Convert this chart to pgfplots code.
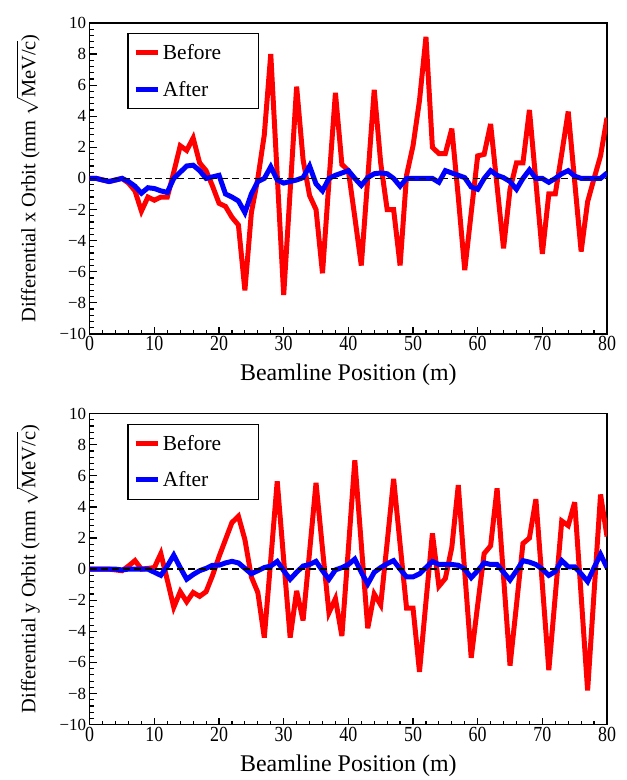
\documentclass[border=0pt]{standalone}
\usepackage{amsmath}
\usepackage{fontspec}
\setmainfont{Liberation Serif}
\usepackage{pgfplots}
\pgfplotsset{compat=1.18}
\usepackage{pgfplotstable}

\pgfplotstableread{
m xb xa
0 0 0
1 0 0
2 -0.1 -0.1
3 -0.2 -0.2
4 -0.1 -0.1
5 0 0
6 -0.3 -0.2
7 -0.8 -0.5
8 -2.1 -0.95
9 -1.2 -0.6
10 -1.4 -0.65
11 -1.2 -0.8
12 -1.2 -0.9
13 0.4 0
14 2.1 0.4
15 1.8 0.8
16 2.6 0.85
17 1.0 0.5
18 0.5 0
19 -0.5 0.1
20 -1.6 0.2
21 -1.8 -1.0
22 -2.5 -1.2
23 -3.0 -1.45
24 -7.2 -2.2
25 -2.2 -1.0
26 0 -0.2
27 2.8 0
28 8.0 0.75
29 0.2 -0.1
30 -7.5 -0.3
31 -0.8 -0.2
32 5.9 -0.1
33 1.2 0.05
34 -1.1 0.8
35 -2.0 -0.35
36 -6.1 -0.8
37 -0.2 0
38 5.5 0.2
39 0.9 0.35
40 0.5 0.5
41 -2.5 0
42 -5.6 -0.45
43 0 0.05
44 5.7 0.3
45 1.0 0.35
46 -2.0 0.3
47 -2.0 0
48 -5.6 -0.5
49 0.2 0
50 2.1 0
51 5.0 0
52 9.1 0
53 2.0 0
54 1.6 -0.25
55 1.6 0.5
56 3.2 0.35
57 -1.2 0.2
58 -5.9 0.05
59 -2.2 -0.55
60 1.45 -0.7
61 1.55 0
62 3.5 0.5
63 -0.5 0.2
64 -4.5 0.05
65 -0.7 -0.2
66 1.0 -0.7
67 1.0 0
68 4.4 0.55
69 -0.2 0
70 -4.85 0
71 -1.0 -0.25
72 -1.0 0
73 1.6 0.3
74 4.3 0.5
75 -0.2 0.15
76 -4.7 0
77 -1.5 0
78 0 0
79 1.45 0
80 3.9 0.35
}\xdata

\pgfplotstableread{
m yb ya
0 0 0
1 0 0
2 0 0
3 0 0
4 -0.05 0
5 -0.1 -0.05
6 0.2 0
7 0.55 0
8 0 0
9 0.05 0
10 0.1 -0.2
11 1.0 -0.4
12 -0.7 0.2
13 -2.45 0.9
14 -1.45 0.1
15 -2.1 -0.65
16 -1.5 -0.35
17 -1.75 -0.1
18 -1.45 0.05
19 -0.4 0.25
20 0.8 0.25
21 1.9 0.4
22 3.0 0.5
23 3.4 0.4
24 1.9 0.05
25 -0.5 -0.3
26 -1.5 -0.1
27 -4.4 0.1
28 0.6 0.2
29 5.65 0.5
30 0.6 -0.1
31 -4.4 -0.65
32 -1.4 -0.2
33 -3.3 0.2
34 1.1 0.3
35 5.55 0.5
36 1.3 -0.1
37 -2.8 -0.65
38 -1.9 -0.05
39 -4.3 0.1
40 1.3 0.3
41 7.0 0.65
42 1.6 -0.2
43 -3.8 -0.95
44 -1.6 -0.2
45 -2.3 0.1
46 1.7 0.35
47 5.8 0.55
48 1.6 0
49 -2.5 -0.5
50 -2.5 -0.5
51 -6.6 -0.3
52 -2.1 0.1
53 2.3 0.5
54 -1.1 0.3
55 -0.6 0.3
56 1.4 0.3
57 5.4 0.25
58 -0.2 0
59 -5.7 -0.55
60 -2.3 -0.1
61 1.0 0.4
62 1.5 0.3
63 5.2 0.3
64 -0.5 -0.2
65 -6.2 -0.7
66 -2.3 -0.1
67 1.65 0.55
68 2.0 0.45
69 4.5 0.3
70 -1.0 0
71 -6.5 -0.4
72 -1.7 -0.15
73 3.1 0.55
74 2.8 0.15
75 4.3 0.15
76 -1.7 -0.3
77 -7.8 -0.8
78 -1.5 0.1
79 4.8 0.95
80 2.1 0.1
}\ydata

\pgfplotsset{
  myax/.style={
    scale only axis, width=519pt, height=312pt,
    xmin=0, xmax=80, ymin=-10, ymax=10,
    xtick={0,10,...,80}, ytick={-10,-8,...,10},
    yticklabels={−10,−8,−6,−4,−2,0,2,4,6,8,10},
    minor x tick num=4, minor y tick num=4,
    tick align=inside, tick pos=left,
    axis line style={line width=1.5pt},
    major tick length=7pt, minor tick length=4pt,
    major tick style={black, line width=1.2pt},
    minor tick style={black, line width=1.2pt},
    xticklabel style={font=\fontsize{18}{20}\selectfont, yscale=1.2, transform shape, inner sep=2pt},
    yticklabel style={font=\fontsize{17}{19}\selectfont},
    /pgf/number format/assume math mode=true,
    xlabel={Beamline Position (m)},
    every axis x label/.style={at={(axis description cs:0.5,-0.151)}, anchor=base, font=\fontsize{24}{26}\selectfont},
    every axis y label/.style={at={(axis description cs:-0.119,0.5)}, anchor=center, rotate=90, font=\fontsize{20.5}{23}\selectfont},
    legend style={at={(axis description cs:0.073,0.968)}, anchor=north west, draw=black, line width=1.2pt,
      font=\fontsize{21.5}{24}\selectfont, row sep=16pt, inner xsep=5pt, inner ysep=9pt},
    legend cell align=left,
    legend image code/.code={\draw[##1] (0pt,0pt) -- (23pt,0pt);},
  }
}

\begin{document}
\begin{tikzpicture}
\begin{axis}[myax, at={(90pt,-335pt)}, anchor=south west,
  ylabel={Differential x Orbit (mm $\sqrt{\text{MeV/c}}$)}]
\addplot[red, line width=5pt, line join=miter, miter limit=4] table[x=m,y=xb] {\xdata};
\addplot[blue, line width=5pt, line join=miter, miter limit=4] table[x=m,y=xa] {\xdata};
\addplot[black, line width=1.5pt, dash pattern=on 7pt off 4pt, forget plot] coordinates {(0,0) (80,0)};
\legend{Before\hspace*{30pt},After}
\end{axis}
\begin{axis}[myax, at={(90pt,-727pt)}, anchor=south west,
  ylabel={Differential y Orbit (mm $\sqrt{\text{MeV/c}}$)}]
\addplot[red, line width=5pt, line join=miter, miter limit=4] table[x=m,y=yb] {\ydata};
\addplot[blue, line width=5pt, line join=miter, miter limit=4] table[x=m,y=ya] {\ydata};
\addplot[black, line width=1.5pt, dash pattern=on 7pt off 4pt, forget plot] coordinates {(0,0) (80,0)};
\legend{Before\hspace*{30pt},After}
\end{axis}
\path (0pt,0pt) rectangle (629pt,-780pt);
\end{tikzpicture}
\end{document}
